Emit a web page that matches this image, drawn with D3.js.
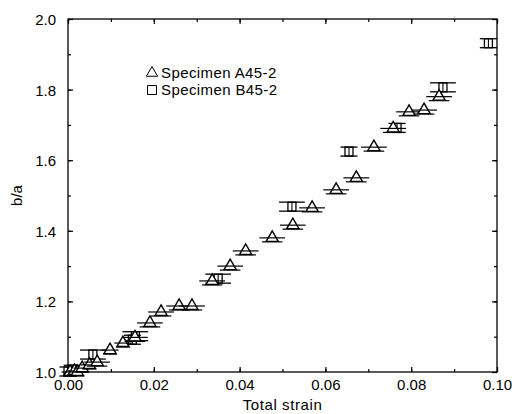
<!DOCTYPE html>
<html>
<head>
<meta charset="utf-8">
<script src="https://cdn.jsdelivr.net/npm/d3@7"></script>
<style>
  body { margin: 0; background: #fff; }
  text { font-family: "Liberation Sans", Arial, sans-serif; fill: #000; }
</style>
</head>
<body>
<div id="chart"></div>
<script>
// chart size and plot box
var width = 520,
    height = 414;

var margin = {
    top: 19,
    bottom: 42,
    left: 68,
    right: 23
};

// Specimen A45-2 (triangles)
var strainA = [0.0005, 0.0015, 0.0022, 0.0033, 0.0050, 0.0068, 0.0098, 0.0128, 0.0156, 0.0191, 0.0217, 0.0259, 0.0289, 0.0336, 0.0378, 0.0414, 0.0476, 0.0524, 0.0569, 0.0625, 0.0672, 0.0713, 0.0758, 0.0795, 0.0830, 0.0865];
var ratioA  = [1.000, 1.003, 1.000, 1.011, 1.020, 1.028, 1.062, 1.082, 1.098, 1.139, 1.170, 1.187, 1.187, 1.258, 1.300, 1.343, 1.380, 1.416, 1.465, 1.516, 1.550, 1.637, 1.690, 1.737, 1.742, 1.780];
var errA    = [0.002, 0.002, 0.002, 0.002, 0.002, 0.003, 0.002, 0.002, 0.003, 0.003, 0.003, 0.003, 0.003, 0.003, 0.003, 0.003, 0.003, 0.003, 0.003, 0.003, 0.003, 0.003, 0.003, 0.003, 0.003, 0.003];

// Specimen B45-2 (squares)
var strainB = [0.0000, 0.0010, 0.0058, 0.0150, 0.0157, 0.0350, 0.0522, 0.0655, 0.0767, 0.0874, 0.0980];
var ratioB  = [1.000, 1.005, 1.048, 1.090, 1.100, 1.263, 1.467, 1.623, 1.690, 1.805, 1.930];
var errB    = [0.002, 0.002, 0.003, 0.002, 0.003, 0.003, 0.003, 0.002, 0.002, 0.003, 0.002];

var xTicks = [0, 0.02, 0.04, 0.06, 0.08, 0.10],
    yTicks = [1.0, 1.2, 1.4, 1.6, 1.8, 2.0];

var legendLabels = ["Specimen A45-2", "Specimen B45-2"];

var svg = d3.select("#chart")
    .append("svg")
    .attr("width", width)
    .attr("height", height);

var innerW = width - margin.left - margin.right,
    innerH = height - margin.top - margin.bottom;

var g = svg.append("g")
    .attr("transform", "translate(" + margin.left + "," + margin.top + ")");

var x = d3.scaleLinear().domain([0, 0.1]).range([0, innerW]);
var y = d3.scaleLinear().domain([1.0, 2.0]).range([innerH, 0]);

// minor ticks every 0.01 / 0.1, major ticks with labels
var xMinor = d3.range(0, 0.1001, 0.01),
    yMinor = d3.range(1.0, 2.001, 0.1);

function tickAxis(axisFn, scale, values, size, fmt) {
    return axisFn(scale).tickValues(values).tickSizeInner(size).tickSizeOuter(0).tickFormat(fmt);
}

// bottom axis
g.append("g").attr("transform", "translate(0," + innerH + ")")
    .call(tickAxis(d3.axisBottom, x, xMinor, -3, ""));
g.append("g").attr("class", "xaxis").attr("transform", "translate(0," + innerH + ")")
    .call(tickAxis(d3.axisBottom, x, xTicks, -5, d3.format(".2f")));
// top axis
g.append("g").call(tickAxis(d3.axisTop, x, xMinor, -3, ""));
g.append("g").call(tickAxis(d3.axisTop, x, xTicks, -5, ""));
// left axis
g.append("g").call(tickAxis(d3.axisLeft, y, yMinor, -3, ""));
g.append("g").attr("class", "yaxis").call(tickAxis(d3.axisLeft, y, yTicks, -5, d3.format(".1f")));
// right axis
g.append("g").attr("transform", "translate(" + innerW + ",0)")
    .call(tickAxis(d3.axisRight, y, yMinor, -3, ""));
g.append("g").attr("transform", "translate(" + innerW + ",0)")
    .call(tickAxis(d3.axisRight, y, yTicks, -5, ""));

g.selectAll(".domain").remove();
g.selectAll(".tick line").attr("stroke", "#000").attr("stroke-width", 1.2);
g.selectAll(".tick text").attr("font-size", "15px").attr("fill", "#000");
g.selectAll(".xaxis .tick text").attr("dy", "0.95em").attr("y", 4);
g.selectAll(".yaxis .tick text").attr("x", -12).attr("dy", "0.36em");

// box
g.append("rect")
    .attr("width", innerW)
    .attr("height", innerH)
    .attr("fill", "none")
    .attr("stroke", "#000")
    .attr("stroke-width", 1.3);

// axis titles
svg.append("text")
    .attr("x", margin.left + innerW / 2)
    .attr("y", 410)
    .attr("text-anchor", "middle")
    .attr("font-size", "15px")
    .attr("letter-spacing", "0.6px")
    .text("Total strain");

svg.append("text")
    .attr("transform", "translate(22," + (margin.top + innerH / 2) + ") rotate(-90)")
    .attr("text-anchor", "middle")
    .attr("font-size", "15px")
    .text("b/a");

var tri = d3.symbol().type(d3.symbolTriangle).size(64);

var dataA = strainA.map(function(d, i) { return {x: d, y: ratioA[i], e: errA[i]}; });
var dataB = strainB.map(function(d, i) { return {x: d, y: ratioB[i], e: errB[i]}; });

// squares: error bars drawn as two long caps with vertical strokes
var sq = g.selectAll(".sq")
    .data(dataB)
    .enter().append("g")
    .attr("transform", function(d) { return "translate(" + x(d.x) + "," + y(d.y) + ")"; });

sq.each(function(d) {
    var s = d3.select(this);
    var w = x(d.e) - x(0);
    [-5, 4].forEach(function(off) {
        s.append("line").attr("x1", -w).attr("x2", w).attr("y1", off).attr("y2", off)
            .attr("stroke", "#000").attr("stroke-width", 1.3);
    });
    s.append("rect").attr("x", -4).attr("y", -5).attr("width", 8).attr("height", 9)
        .attr("fill", "none").attr("stroke", "#000").attr("stroke-width", 1.3);
    s.append("line").attr("x1", 0).attr("x2", 0).attr("y1", -5).attr("y2", 4)
        .attr("stroke", "#000").attr("stroke-width", 1.1);
});

// triangles with horizontal error bars
var trg = g.selectAll(".tri")
    .data(dataA)
    .enter().append("g")
    .attr("transform", function(d) { return "translate(" + x(d.x) + "," + y(d.y) + ")"; });

trg.each(function(d) {
    var s = d3.select(this);
    var w = x(d.e) - x(0);
    s.append("path").attr("d", tri)
        .attr("fill", "#fff").attr("stroke", "#000").attr("stroke-width", 1.4);
    s.append("line").attr("x1", -w).attr("x2", w).attr("y1", 0).attr("y2", 0)
        .attr("stroke", "#000").attr("stroke-width", 1.2);
    s.append("line").attr("x1", -w * 0.8).attr("x2", w * 0.8).attr("y1", 4).attr("y2", 4)
        .attr("stroke", "#000").attr("stroke-width", 1.2);
});

// legend
var legend = svg.selectAll(".legend")
    .data(legendLabels)
    .enter().append("g")
    .attr("transform", function(d, i) { return "translate(152," + (73 + i * 17) + ")"; });

legend.append("path")
    .attr("d", function(d, i) { return i === 0 ? d3.symbol().type(d3.symbolTriangle).size(55)() : "M-4.5,-4.5H4.5V4.5H-4.5Z"; })
    .attr("fill", "none")
    .attr("stroke", "#000")
    .attr("stroke-width", 1);

legend.append("text")
    .attr("x", 9)
    .attr("dy", "0.36em")
    .attr("font-size", "15px")
    .attr("letter-spacing", "0.4px")
    .text(function(d) { return d; });
</script>
</body>
</html>
